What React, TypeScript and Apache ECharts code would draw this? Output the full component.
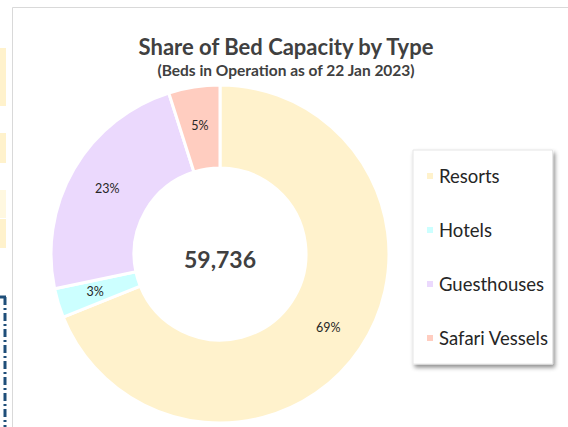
import React, { useEffect, useRef } from "react";
import * as echarts from "echarts";

const categories = ["Resorts", "Hotels", "Guesthouses", "Safari Vessels"];
const beds = [41158, 1673, 13978, 2927];
const colors = ["#FFF2CC", "#CCFFFF", "#EBD9FD", "#FFCDC0"];
const titleText = "Share of Bed Capacity by Type";
const subtitleText = "(Beds in Operation as of 22 Jan 2023)";

export default function App() {
  const ref = useRef<HTMLDivElement>(null);
  useEffect(() => {
    if (!ref.current) return;
    const chart = echarts.init(ref.current, undefined, { renderer: "svg" });
    const total = beds.reduce((a, b) => a + b, 0);
    const font = "Lato, 'Open Sans', sans-serif";
    chart.setOption({
      animation: false,
      backgroundColor: "#ffffff",
      title: [
        {
          text: titleText,
          left: 281,
          top: 30,
          textAlign: "center",
          textStyle: { fontFamily: font, fontSize: 22, fontWeight: "bold", color: "#404040" },
        },
        {
          text: subtitleText,
          left: 281,
          top: 57,
          textAlign: "center",
          textStyle: { fontFamily: font, fontSize: 15.5, fontWeight: "bold", color: "#404040" },
        },
      ],
      legend: {
        orient: "vertical",
        left: 413,
        top: 150,
        padding: [16, 4, 16, 12],
        itemGap: 34,
        itemWidth: 8,
        itemHeight: 8,
        icon: "rect",
        backgroundColor: "#ffffff",
        borderColor: "#e6e6e6",
        borderWidth: 1,
        shadowColor: "rgba(0,0,0,0.45)",
        shadowBlur: 4,
        shadowOffsetX: 2,
        shadowOffsetY: 3,
        textStyle: { fontFamily: font, fontSize: 18.5, color: "#262626", lineHeight: 20 },
        data: categories,
      },
      graphic: [
        { type: "rect", shape: { x: 12.5, y: 7.5, width: 600, height: 500 }, style: { fill: "none", stroke: "#d9d9d9", lineWidth: 1 }, silent: true },
        { type: "rect", shape: { x: 0, y: 48, width: 6, height: 58 }, style: { fill: "#FFF2CC" } },
        { type: "rect", shape: { x: 0, y: 133, width: 6, height: 30 }, style: { fill: "#FFF2CC" } },
        { type: "rect", shape: { x: 0, y: 190, width: 6, height: 28 }, style: { fill: "#FFF8E0" } },
        { type: "rect", shape: { x: 0, y: 219, width: 6, height: 29 }, style: { fill: "#FFF2CC" } },
        { type: "line", shape: { x1: 0, y1: 297, x2: 6, y2: 297 }, style: { stroke: "#1F4E79", lineWidth: 3, lineDash: [6, 3] } },
        { type: "line", shape: { x1: 5, y1: 297, x2: 5, y2: 427 }, style: { stroke: "#1F4E79", lineWidth: 3, lineDash: [8, 3, 2, 3] } },
        {
          type: "text",
          x: 220,
          y: 259,
          style: {
            text: total.toLocaleString("en-US"),
            textAlign: "center",
            textVerticalAlign: "middle",
            fontFamily: font,
            fontSize: 23,
            fontWeight: "bold",
            fill: "#404040",
          },
        },
      ],
      series: [
        {
          type: "pie",
          center: [220, 254],
          radius: [86, 169],
          startAngle: 90,
          clockwise: true,
          percentPrecision: 0,
          avoidLabelOverlap: false,
          itemStyle: { borderColor: "#ffffff", borderWidth: 3 },
          label: {
            position: "inside",
            formatter: "{d}%",
            fontFamily: font,
            fontSize: 12.5,
            color: "#262626",
          },
          labelLine: { show: false },
          emphasis: { disabled: true },
          data: categories.map((c, i) => ({ name: c, value: beds[i], itemStyle: { color: colors[i] } })),
        },
      ],
    });
    return () => chart.dispose();
  }, []);
  return <div ref={ref} style={{ position: "absolute", left: 0, top: 0, width: 568, height: 427 }} />;
}
